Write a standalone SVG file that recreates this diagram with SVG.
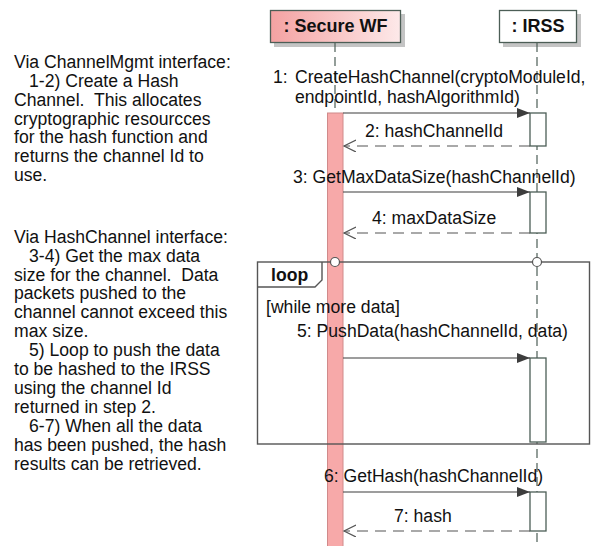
<svg xmlns="http://www.w3.org/2000/svg" width="592" height="546" viewBox="0 0 592 546">
  <defs>
    <style>
      .txt { font-family: "Liberation Sans", Arial, sans-serif; font-size: 17.6px; fill: #111; }
      .pre { white-space: pre; }
      .head { font-family: "Liberation Sans", Arial, sans-serif; font-size: 18px; font-weight: bold; fill: #111; text-anchor: middle; }
      .hbox { stroke: #4c5e56; stroke-width: 1.3; }
      .shadow { fill: #c4c4c4; }
      .life { stroke: #4c5e56; stroke-width: 1.2; stroke-dasharray: 9 5; fill: none; }
      .actw { fill: #ffffff; stroke: #4c5e56; stroke-width: 1.3; }
      .actp { fill: #f7a9a9; stroke: #d08a8a; stroke-width: 1; }
      .msg { stroke: #3d3d3d; stroke-width: 1.2; fill: none; marker-end: url(#solidHead); }
      .ret { stroke: #555; stroke-width: 1.2; stroke-dasharray: 11 7; fill: none; marker-end: url(#openHead); }
      .frame { fill: none; stroke: #555; stroke-width: 1.4; }
      .gate { fill: #fff; stroke: #555; stroke-width: 1.2; }
    </style>
    <linearGradient id="pinkHead" x1="0" y1="0" x2="1" y2="0">
      <stop offset="0" stop-color="#f4a2a2"/>
      <stop offset="1" stop-color="#fde9e9"/>
    </linearGradient>
    <marker id="solidHead" markerUnits="userSpaceOnUse" markerWidth="14" markerHeight="12" refX="13" refY="5" orient="auto">
      <path d="M0,0 L13,5 L0,10 z" fill="#3d3d3d"/>
    </marker>
    <marker id="openHead" markerUnits="userSpaceOnUse" markerWidth="14" markerHeight="14" refX="12" refY="6" orient="auto">
      <path d="M0,0 L12,6 L0,12" fill="none" stroke="#555" stroke-width="1.2"/>
    </marker>
  </defs>

  <rect width="592" height="546" fill="#ffffff"/>

  <!-- Explanatory notes -->
  <g id="notes" class="txt">
    <text x="14" y="67.8">Via ChannelMgmt interface:</text>
    <text x="29" y="86.7">1-2) Create a Hash</text>
    <text class="pre" x="14" y="105.6">Channel.  This allocates</text>
    <text x="14" y="124.5">cryptographic resourcces</text>
    <text x="14" y="143.4">for the hash function and</text>
    <text x="14" y="162.3">returns the channel Id to</text>
    <text x="14" y="181.2">use.</text>

    <text x="14" y="242.7">Via HashChannel interface:</text>
    <text x="29" y="261.6">3-4) Get the max data</text>
    <text class="pre" x="14" y="280.5">size for the channel.  Data</text>
    <text x="14" y="299.4">packets pushed to the</text>
    <text x="14" y="318.3">channel cannot exceed this</text>
    <text x="14" y="337.2">max size.</text>
    <text x="29" y="356.1">5) Loop to push the data</text>
    <text x="14" y="375">to be hashed to the IRSS</text>
    <text x="14" y="393.9">using the channel Id</text>
    <text x="14" y="412.8">returned in step 2.</text>
    <text x="29" y="431.7">6-7) When all the data</text>
    <text x="14" y="450.6">has been pushed, the hash</text>
    <text x="14" y="469.5">results can be retrieved.</text>
  </g>

  <!-- Lifeline: Secure WF -->
  <g id="secure-wf">
    <rect class="shadow" x="274" y="14" width="131" height="33"/>
    <rect class="hbox" x="270.5" y="10.5" width="130" height="32" fill="url(#pinkHead)"/>
    <text class="head" x="335.5" y="32">: Secure WF</text>
    <line class="life" x1="335" y1="43" x2="335" y2="113"/>
    <rect class="actp" x="327.5" y="113" width="15.5" height="440"/>
  </g>

  <!-- Lifeline: IRSS -->
  <g id="irss">
    <rect class="shadow" x="503" y="14" width="78" height="33"/>
    <rect class="hbox" x="499.5" y="10.5" width="77" height="32" fill="#ffffff"/>
    <text class="head" x="538" y="32">: IRSS</text>
    <line class="life" x1="537" y1="43" x2="537" y2="546"/>
    <rect class="actw" x="530" y="113" width="16" height="33"/>
    <rect class="actw" x="530" y="192" width="16" height="41"/>
    <rect class="actw" x="530" y="358" width="16" height="84"/>
    <rect class="actw" x="530" y="492" width="16" height="39"/>
  </g>

  <!-- Combined fragment: loop -->
  <g id="loop">
    <rect class="frame" x="257.5" y="262" width="332" height="182"/>
    <path class="frame" d="M257.5,287 L315,287 L322,280 L322,262"/>
    <text class="txt" x="271" y="281" font-weight="bold">loop</text>
    <text class="txt" x="266" y="313">[while more data]</text>
    <circle class="gate" cx="335" cy="262" r="4.5"/>
    <circle class="gate" cx="537" cy="262" r="4.5"/>
  </g>

  <!-- Messages -->
  <g id="connectors">
    <line class="msg" x1="343" y1="113" x2="530" y2="113"/>
    <line class="ret" x1="530" y1="146" x2="344" y2="146"/>
    <line class="msg" x1="343" y1="192" x2="530" y2="192"/>
    <line class="ret" x1="530" y1="233" x2="344" y2="233"/>
    <line class="msg" x1="343" y1="358" x2="530" y2="358"/>
    <line class="msg" x1="343" y1="492" x2="530" y2="492"/>
    <line class="ret" x1="530" y1="531" x2="344" y2="531"/>

    <g class="txt">
      <text x="273" y="83">1:</text>
      <text x="295" y="83">CreateHashChannel(cryptoModuleId,</text>
      <text x="295" y="103">endpointId, hashAlgorithmId)</text>
      <text x="365" y="137">2: hashChannelId</text>
      <text x="293" y="183">3: GetMaxDataSize(hashChannelId)</text>
      <text x="372" y="224">4: maxDataSize</text>
      <text x="297" y="337">5: PushData(hashChannelId, data)</text>
      <text x="324" y="482">6: GetHash(hashChannelId)</text>
      <text x="394" y="522">7: hash</text>
    </g>
  </g>
</svg>
